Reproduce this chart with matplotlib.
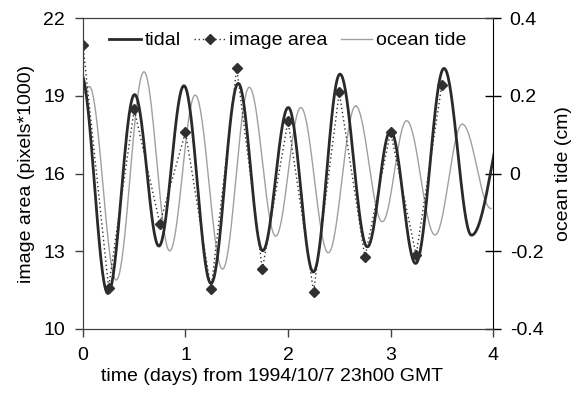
import numpy as np
import matplotlib
matplotlib.use("Agg")
import matplotlib.pyplot as plt

plt.rcParams['font.family'] = ['Liberation Sans', 'DejaVu Sans']
plt.rcParams['font.size'] = 14

# image area samples every 6 hours (pixels*1000)
area_t = [0, 0.25, 0.5, 0.75, 1.0, 1.25, 1.5, 1.75, 2.0, 2.25, 2.5, 2.75, 3.0, 3.25, 3.5]
area_v = [20.96, 11.6, 18.48, 14.07, 17.6, 11.54, 20.08, 12.3, 18.04, 11.43, 19.15,
          12.76, 17.61, 12.85, 19.41]

# tidal model: high / low water times (days) and levels (pixels*1000)
tidal_t = [-0.02, 0.244, 0.504, 0.741, 0.985, 1.249, 1.515, 1.753, 2.003, 2.247,
           2.507, 2.774, 3.0, 3.245, 3.522, 3.79, 4.2]
tidal_v = [19.85, 11.37, 19.05, 13.2, 19.39, 11.76, 19.48, 13.02, 18.55, 12.2,
           19.84, 13.17, 17.65, 12.53, 20.06, 13.62, 19.3]

# ocean tide: high / low water times (days) and heights (cm)
ocean_t = [0.0, 0.062, 0.325, 0.595, 0.846, 1.095, 1.362, 1.622, 1.88, 2.125,
           2.393, 2.66, 2.92, 3.157, 3.434, 3.70, 3.98]
ocean_v = [0.205, 0.224, -0.274, 0.262, -0.199, 0.202, -0.246, 0.222, -0.161, 0.17,
           -0.204, 0.174, -0.124, 0.136, -0.158, 0.127, -0.09]


def tide_curve(times, levels, n=40):
    # half-cosine between successive high and low waters
    xs = []
    ys = []
    for i in range(len(times) - 1):
        s = np.linspace(0, 1, n)
        xs.append(times[i] + (times[i + 1] - times[i]) * s)
        ys.append(levels[i] + (levels[i + 1] - levels[i]) * (1 - np.cos(np.pi * s)) / 2)
    return np.concatenate(xs), np.concatenate(ys)


fig = plt.figure(figsize=(5.76, 3.94), dpi=100)
ax = fig.add_axes([0.144, 0.165, 0.712, 0.789])
ax2 = ax.twinx()
ax.set_zorder(ax2.get_zorder() + 1)
ax.patch.set_visible(False)

ox, oy = tide_curve(ocean_t, ocean_v)
l3, = ax2.plot(ox, oy, color='#a0a0a0', lw=1.0, label='ocean tide')

tx, ty = tide_curve(tidal_t, tidal_v)
l1, = ax.plot(tx, ty, color='#2a2a2a', lw=2.0, label='tidal')
l2, = ax.plot(area_t, area_v, color='#303030', lw=1.0, ls=(0, (1, 2)),
              marker='D', markersize=5.5, label='image area')

ax.set_xlim(0, 4)
ax.set_ylim(10, 22)
ax.set_yticks([10, 13, 16, 19, 22])
ax.set_xticks([0, 1, 2, 3, 4])
ax2.set_ylim(-0.4, 0.4)
ax2.set_yticks([-0.4, -0.2, 0, 0.2, 0.4])
ax2.set_yticklabels(['-0.4', '-0.2', '0', '0.2', '0.4'])

ax.tick_params(axis='y', direction='out', length=6, width=1, color='#404040', pad=7)
ax.tick_params(axis='x', direction='out', length=6, width=1, color='#404040', pad=7)
ax2.tick_params(axis='y', direction='inout', length=12, width=1, color='black', pad=6)

for side in ['left', 'bottom', 'top']:
    ax.spines[side].set_color('#404040')
    ax2.spines[side].set_color('#404040')
ax.spines['right'].set_visible(False)
ax2.spines['right'].set_color('black')

ax.set_ylabel('image area (pixels*1000)', labelpad=6)
ax2.set_ylabel('ocean tide (cm)', labelpad=8)
ax.set_xlabel('time (days) from 1994/10/7 23h00 GMT')
ax.xaxis.set_label_coords(0.461, -0.125)

ax.legend(handles=[l1, l2, l3], loc='upper center', ncol=3, frameon=False,
          handlelength=1.6, handletextpad=0.2, columnspacing=0.7,
          borderaxespad=0.3, bbox_to_anchor=(0.5, 1.0))

plt.savefig('out.png', dpi=100)
